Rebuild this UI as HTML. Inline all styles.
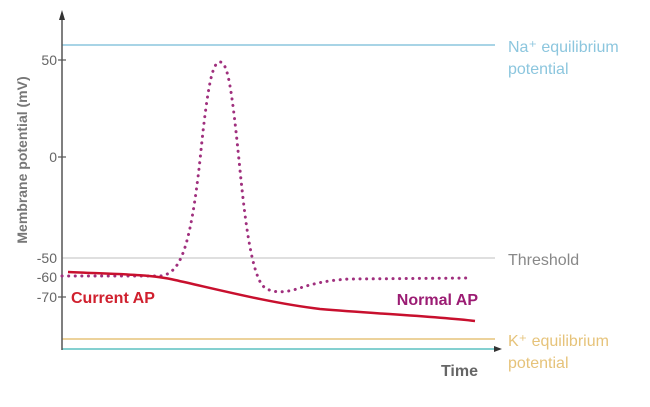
<!DOCTYPE html>
<html><head><style>
body{margin:0;background:#fff;}
svg text{font-family:"Liberation Sans",Arial,sans-serif;}
</style></head><body>
<svg width="650" height="402" viewBox="0 0 650 402" xmlns="http://www.w3.org/2000/svg">
<line x1="62" y1="45" x2="495" y2="45" stroke="#8cc6de" stroke-width="1.5"/>
<line x1="62" y1="258" x2="495" y2="258" stroke="#cccccc" stroke-width="1.2"/>
<line x1="62" y1="339" x2="495" y2="339" stroke="#e6c37a" stroke-width="1.5"/>
<line x1="62" y1="349" x2="496" y2="349" stroke="#5cc0c0" stroke-width="1.5"/>
<polygon points="502,349 494,346 494,352" fill="#333"/>
<line x1="62" y1="16" x2="62" y2="350" stroke="#555" stroke-width="1.5"/>
<polygon points="62,10 59,20 65,20" fill="#333"/>
<g stroke="#555" stroke-width="1.2">
<line x1="58" y1="60" x2="66" y2="60"/><line x1="58" y1="157" x2="66" y2="157"/>
<line x1="58" y1="297" x2="66" y2="297"/>
</g>
<g fill="#666" font-size="14" text-anchor="end">
<text x="57" y="65">50</text><text x="57" y="162">0</text>
<text x="57" y="263">-50</text><text x="57" y="282">-60</text><text x="57" y="302">-70</text>
</g>
<text transform="translate(27,160) rotate(-90)" text-anchor="middle" fill="#777" font-size="14" font-weight="bold">Membrane potential (mV)</text>
<path d="M62,276 L160,276 C180,274 190,250 200,160 C208,80 213,62 220,62 C228,62 232,90 240,170 C246,230 252,270 262,285 C270,294 285,293 300,288 C315,283 330,280 350,279 L470,278" fill="none" stroke="#a0307e" stroke-width="3" stroke-dasharray="0.1 6.5" stroke-linecap="round"/>
<path d="M68,272 C110,274 150,274 175,280 C220,290 270,303 320,309 C380,314 430,316 475,321" fill="none" stroke="#c8102e" stroke-width="2.5"/>
<text x="71" y="303" fill="#d0202e" font-size="16" font-weight="bold">Current AP</text>
<text x="478" y="305" fill="#9b1c73" font-size="16" font-weight="bold" text-anchor="end">Normal AP</text>
<text x="478" y="376" fill="#666" font-size="16" font-weight="bold" text-anchor="end">Time</text>
<g font-size="16">
<text x="508" y="52" fill="#8cc6de">Na⁺ equilibrium</text>
<text x="508" y="74" fill="#8cc6de">potential</text>
<text x="508" y="265" fill="#888">Threshold</text>
<text x="508" y="346" fill="#e6c37a">K⁺ equilibrium</text>
<text x="508" y="368" fill="#e6c37a">potential</text>
</g>
</svg>
</body></html>
